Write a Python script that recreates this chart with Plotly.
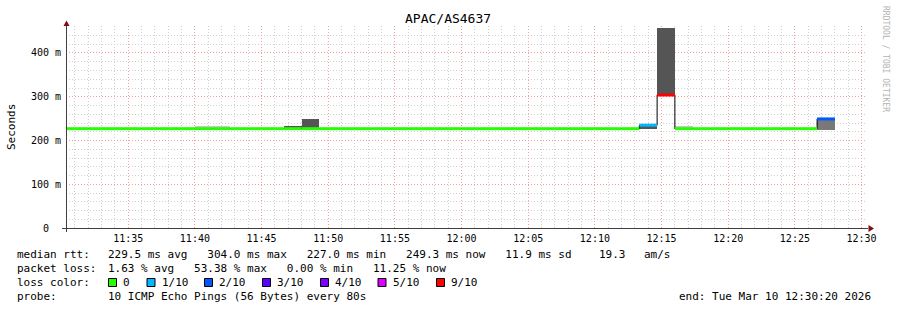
import plotly.graph_objects as go
import pandas as pd

# ---------------- data ----------------
title_text = "APAC/AS4637"
y_title = "Seconds"
watermark = "RRDTOOL / TOBI OETIKER"

window_start = "2026-03-10 11:30:20"
window_end = "2026-03-10 12:30:20"
first_bin_start = "2026-03-10 11:29:20"
bin_seconds = 80

# median rtt per 80 s step (ms)
median_ms = [
    227.0, 227.0, 227.0, 227.0, 227.0, 227.0, 227.0, 227.0, 227.0, 227.0,
    227.0, 227.0, 227.0, 227.0, 227.0, 227.0, 227.0, 227.0, 227.0, 227.0,
    227.0, 227.0, 227.0, 227.0, 227.0, 227.0, 227.0, 227.0, 227.0, 227.0,
    227.0, 227.0, 227.0, 235.0, 304.0, 227.0, 227.0, 227.0, 227.0, 227.0,
    227.0, 227.0, 227.0, 249.3,
]
# lost pings out of 10 per step
loss_count = [
    0, 0, 0, 0, 0, 0, 0, 0, 0, 0,
    0, 0, 0, 0, 0, 0, 0, 0, 0, 0,
    0, 0, 0, 0, 0, 0, 0, 0, 0, 0,
    0, 0, 0, 1, 9, 0, 0, 0, 0, 0,
    0, 0, 0, 2,
]
# smoke band (ms) per step, None = no visible smoke
smoke_low_ms = [
    None, None, None, None, None, None, None, None, 227.0, 227.0,
    None, None, None, 227.0, 227.0, None, None, None, None, None,
    None, None, None, None, None, None, None, None, None, None,
    None, None, None, 225.5, 304.0, 227.0, None, None, None, None,
    None, None, None, 225.0,
]
smoke_high_ms = [
    None, None, None, None, None, None, None, None, 233.0, 233.0,
    None, None, None, 233.5, 248.5, None, None, None, None, None,
    None, None, None, None, None, None, None, None, None, None,
    None, None, None, 235.0, 457.0, 233.0, None, None, None, None,
    None, None, None, 249.0,
]
# pings inside the smoke band (controls the gray shade)
smoke_pings = [
    0, 0, 0, 0, 0, 0, 0, 0, 2, 2,
    0, 0, 0, 9, 9, 0, 0, 0, 0, 0,
    0, 0, 0, 0, 0, 0, 0, 0, 0, 0,
    0, 0, 0, 9, 9, 2, 0, 0, 0, 0,
    0, 0, 0, 6,
]

y_tick_values = [0, 0.1, 0.2, 0.3, 0.4]
y_tick_labels = ["0", "100 m", "200 m", "300 m", "400 m"]

loss_legend_counts = [0, 1, 2, 3, 4, 5, 9]
loss_legend_labels = ["0", "1/10", "2/10", "3/10", "4/10", "5/10", "9/10"]
loss_colors = {0: "#26ff00", 1: "#00b8ff", 2: "#0059ff", 3: "#5e00ff",
               4: "#7e00ff", 5: "#dd00ff", 9: "#ff0000"}

rtt_stats = [229.5, 304.0, 227.0, 249.3, 11.9]   # avg max min now sd (ms)
rtt_am_s = 19.3
loss_stats = [1.63, 53.38, 0.00, 11.25]          # avg max min now (%)
probe_text = "10 ICMP Echo Pings (56 Bytes) every 80s"
end_text = "end: Tue Mar 10 12:30:20 2026"

# ---------------- figure ----------------
W, H = 897, 310
L, R, T, B = 66, 31, 26, 82
PW, PH = W - L - R, H - T - B
MONO = "DejaVu Sans Mono"


def px(x):
    return (x - L) / PW


def py(y):
    return (T + PH - y) / PH


def nb(s):
    return s.replace(" ", "\u00a0")


starts = pd.date_range(first_bin_start, periods=len(median_ms), freq=f"{bin_seconds}s")
step = pd.Timedelta(seconds=bin_seconds)


def shade(n):
    if n >= 8:
        return "#555555"
    if n >= 5:
        return "#787878"
    return "#c8c8c8"


fig = go.Figure()

# smoke
sx, sy, sb, sc = [], [], [], []
for t, lo, hi, n in zip(starts, smoke_low_ms, smoke_high_ms, smoke_pings):
    if lo is None:
        continue
    sx.append(t)
    sb.append(lo / 1000)
    sy.append((hi - lo) / 1000)
    sc.append(shade(n))
fig.add_trace(go.Bar(x=sx, y=sy, base=sb, width=[bin_seconds * 1000] * len(sx), offset=0,
                     marker=dict(color=sc, line=dict(width=0)), hoverinfo="skip"))

# thin black step line of the median
fig.add_trace(go.Scatter(x=list(starts) + [starts[-1] + step],
                         y=[m / 1000 for m in median_ms] + [median_ms[-1] / 1000],
                         mode="lines", line=dict(color="#000000", width=1, shape="hv"),
                         hoverinfo="skip"))

# coloured median segments by loss
for cnt, col in loss_colors.items():
    xs, ys = [], []
    for t, m, lc in zip(starts, median_ms, loss_count):
        if lc == cnt:
            xs += [t, t + step, None]
            ys += [m / 1000, m / 1000, None]
    if xs:
        fig.add_trace(go.Scatter(x=xs, y=ys, mode="lines", line=dict(color=col, width=3),
                                 hoverinfo="skip"))

MGRID = "#f2a0a0"
GRID = "#cfcfcf"
fig.update_xaxes(type="date", range=[window_start, window_end],
                 tick0="2026-03-10 11:35:00", dtick=300000, tickformat="%H:%M",
                 showgrid=True, gridcolor=MGRID, gridwidth=1, griddash="1px,2px",
                 minor=dict(dtick=60000, tick0="2026-03-10 11:31:00", showgrid=True,
                            gridcolor=GRID, gridwidth=1, griddash="1px,2px"),
                 ticks="", showline=False, zeroline=False,
                 tickfont=dict(family=MONO, size=10, color="#000000"),
                 ticklabelstandoff=3, fixedrange=True)
fig.update_yaxes(range=[0, 0.4617], tickvals=y_tick_values,
                 ticktext=[nb(f"{s:^5}") for s in y_tick_labels],
                 showgrid=True, gridcolor=MGRID, gridwidth=1, griddash="1px,2px",
                 minor=dict(dtick=0.02, tick0=0, showgrid=True, gridcolor=GRID,
                            gridwidth=1, griddash="1px,2px"),
                 ticks="", showline=False, zeroline=False,
                 tickfont=dict(family=MONO, size=10, color="#000000"),
                 ticklabelstandoff=4, fixedrange=True)

AX = "#404040"
ARROW = "#7f1010"
shapes = [
    dict(type="line", xref="paper", yref="paper", x0=px(62), x1=px(868), y0=py(228.5), y1=py(228.5),
         line=dict(color=AX, width=1)),
    dict(type="line", xref="paper", yref="paper", x0=px(66.5), x1=px(66.5), y0=py(232), y1=py(24),
         line=dict(color=AX, width=1)),
    dict(type="path", xref="paper", yref="paper", fillcolor=ARROW, line=dict(width=0),
         path=f"M {px(868.5)} {py(225)} L {px(868.5)} {py(232)} L {px(874)} {py(228.5)} Z"),
    dict(type="path", xref="paper", yref="paper", fillcolor=ARROW, line=dict(width=0),
         path=f"M {px(63.5)} {py(26)} L {px(69.5)} {py(26)} L {px(66.5)} {py(20.5)} Z"),
]

ann = []


def text(x, y, s, size=11, color="#000000", xanchor="left", angle=0):
    ann.append(dict(xref="paper", yref="paper", x=px(x), y=py(y), text=nb(s), showarrow=False,
                    xanchor=xanchor, yanchor="middle", textangle=angle,
                    font=dict(family=MONO, size=size, color=color), borderpad=0))


text(448, 19, title_text, size=13, xanchor="center")
text(11, 127, y_title, size=11, xanchor="center", angle=-90)
text(886, 59, watermark, size=8, color="#b4b4b4", xanchor="center", angle=90)

rows = [254.5, 268.5, 282.5, 296.5]
a, mx, mn, now, sd = rtt_stats
text(16, rows[0], "median rtt:")
text(107, rows[0], f"{a:.1f} ms avg   {mx:.1f} ms max   {mn:.1f} ms min   {now:.1f} ms now   {sd:.1f} ms sd")
text(598, rows[0], f"{rtt_am_s:.1f}")
text(642.5, rows[0], "am/s")
la, lmx, lmn, lnow = loss_stats
text(16, rows[1], "packet loss:")
text(107, rows[1], f"{la:.2f} % avg   {lmx:.2f} % max   {lmn:.2f} % min   {lnow:.2f} % now")
text(16, rows[2], "loss color:")
legend_text_x = [122, 160.5, 218, 276, 334, 391.5, 450]
for tx, cnt, lab in zip(legend_text_x, loss_legend_counts, loss_legend_labels):
    shapes.append(dict(type="rect", xref="paper", yref="paper",
                       x0=px(tx - 13.5), x1=px(tx - 5.5), y0=py(286.5), y1=py(278.5),
                       fillcolor=loss_colors[cnt], line=dict(color="#000000", width=1)))
    text(tx, rows[2], lab)
text(16, rows[3], "probe:")
text(107, rows[3], probe_text)
text(677.5, rows[3], end_text)

fig.update_layout(width=W, height=H, margin=dict(l=L, r=R, t=T, b=B, pad=0),
                  paper_bgcolor="#ffffff", plot_bgcolor="#ffffff",
                  showlegend=False, hovermode=False, shapes=shapes, annotations=ann,
                  bargap=0)

fig.write_html("out.html", config={"displayModeBar": False})
